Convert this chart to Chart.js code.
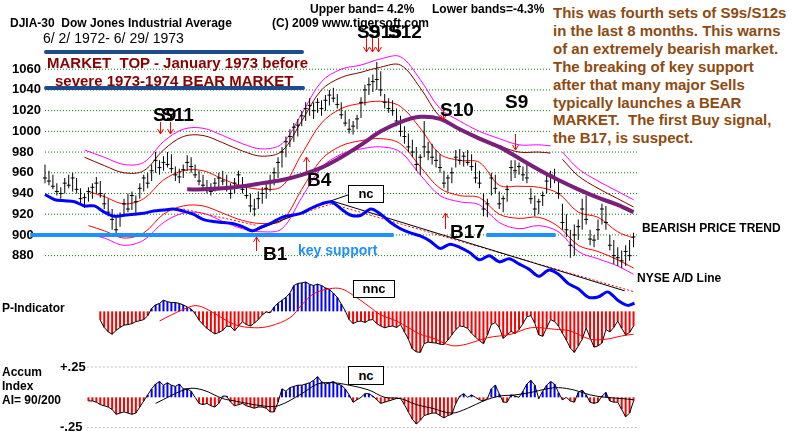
<!DOCTYPE html>
<html><head><meta charset="utf-8">
<script src="https://cdn.jsdelivr.net/npm/chart.js@4.4.1/dist/chart.umd.min.js"></script>
<style>
html,body{margin:0;padding:0;background:#fff;}
#wrap{position:relative;width:800px;height:438px;overflow:hidden;font-family:Arial,"Liberation Sans",sans-serif;background:#fff;}
#c{position:absolute;left:0;top:0;}
.t{position:absolute;white-space:nowrap;line-height:1;color:#000;}
.b12{font-size:12px;font-weight:bold;}
.mk{font-size:15px;font-weight:bold;color:#8b0000;}
.sig{font-size:19px;font-weight:bold;}
.box{position:absolute;background:#fff;border:1px solid #000;font-size:13px;font-weight:bold;text-align:center;box-sizing:border-box;}
.note{position:absolute;left:552px;top:0;width:248px;height:146px;background:#fff;box-sizing:border-box;padding:4px 0 0 1px;font-size:15px;font-weight:bold;line-height:17.9px;color:#8f4a10;white-space:nowrap;}
</style></head><body>
<div id="wrap">
<canvas id="c" width="800" height="438"></canvas>
<svg width="800" height="438" style="position:absolute;left:0;top:0" xmlns="http://www.w3.org/2000/svg">
<g stroke="#1f4d8c" stroke-width="4" stroke-linecap="round"><line x1="46" y1="52" x2="302" y2="52"/><line x1="46" y1="88" x2="303" y2="88"/></g>
<g stroke="#ff0000" stroke-width="1" fill="none">
<path d="M160.5 122V134M157.5 129L160.5 134L163.5 129"/>
<path d="M170.5 122V134M167.5 129L170.5 134L173.5 129"/>
<path d="M366.5 36V52M363.5 47L366.5 52L369.5 47"/>
<path d="M372.5 36V52M369.5 47L372.5 52L375.5 47"/>
<path d="M378.5 38V52M375.5 47L378.5 52L381.5 47"/>
<path d="M443.5 104V120M440.5 115L443.5 120L446.5 115"/>
<path d="M515.5 134V150M512.5 145L515.5 150L518.5 145"/>
<path d="M256.5 251V237M253.5 242L256.5 237L259.5 242"/>
<path d="M306.5 171V157M303.5 162L306.5 157L309.5 162"/>
<path d="M445.5 229V213M442.5 218L445.5 213L448.5 218"/>
</g></svg>
<div class="t b12" style="left:10px;top:17px">DJIA-30&nbsp; Dow Jones Industrial Average</div>
<div class="t" style="left:43px;top:31px;font-size:14px">6/ 2/ 1972- 6/ 29/ 1973</div>
<div class="t b12" style="left:310px;top:3px">Upper band= 4.2%</div>
<div class="t b12" style="left:432px;top:3px">Lower bands=-4.3%</div>
<div class="t b12" style="left:272px;top:17px">(C) 2009 www.tigersoft.com</div>
<div class="t mk" style="left:47px;top:55px">MARKET&nbsp; TOP - January 1973 before</div>
<div class="t mk" style="left:55px;top:73px">severe 1973-1974 BEAR MARKET</div>
<div class="note">This was fourth sets of S9s/S12s<br>in the last 8 months. This warns<br>of an extremely bearish market.<br>The breaking of key support<br>after that many major Sells<br>typically launches a BEAR<br>MARKET.&nbsp; The first Buy signal,<br>the B17, is suspect.</div>
<div class="t sig" style="left:153px;top:105px">S9</div>
<div class="t sig" style="left:161px;top:105px">S11</div>
<div class="t sig" style="left:357px;top:22px">S9</div>
<div class="t sig" style="left:368px;top:22px">S15</div>
<div class="t sig" style="left:388px;top:22px">S12</div>
<div class="t sig" style="left:440px;top:100px">S10</div>
<div class="t sig" style="left:505px;top:92px">S9</div>
<div class="t sig" style="left:307px;top:170px">B4</div>
<div class="t sig" style="left:263px;top:244px">B1</div>
<div class="t sig" style="left:450px;top:222px">B17</div>
<div class="t" style="left:298px;top:243px;font-size:14px;font-weight:bold;color:#1e90ff">key support</div>
<div class="box" style="left:348px;top:185px;width:36px;height:18px;line-height:16px">nc</div>
<div class="box" style="left:353px;top:280px;width:42px;height:18px;line-height:16px">nnc</div>
<div class="box" style="left:348px;top:366px;width:36px;height:19px;line-height:17px">nc</div>
<div class="t b12" style="left:642px;top:222px">BEARISH PRICE TREND</div>
<div class="t b12" style="left:637px;top:272px">NYSE A/D Line</div>
<div class="t b12" style="left:2px;top:302px">P-Indicator</div>
<div class="t b12" style="left:2px;top:366px">Accum</div>
<div class="t b12" style="left:2px;top:380px">Index</div>
<div class="t b12" style="left:2px;top:394px">AI= 90/200</div>
</div>
<script>
// ---------- DATA ----------
const priceTicks = [880, 900, 920, 940, 960, 980, 1000, 1020, 1040, 1060];
const accumTicks = [0.25, -0.25];
const accumTickLabels = ['+.25', '-.25'];

// daily bars, index 0 = 6/2/1972 ... 149 = 6/29/1973
const highs = [968,962,958,950,946,955,958,960,955,945,
  940,946,950,956,952,940,935,925,918,922,
  935,940,942,938,950,958,960,968,980,972,
  976,980,978,966,964,968,977,975,968,962,
  958,953,950,955,960,962,958,950,955,962,
  956,948,940,935,942,946,950,958,965,975,
  985,995,1002,1008,1012,1020,1028,1032,1028,1032,
  1030,1035,1040,1042,1036,1028,1020,1012,1010,1016,
  1033,1045,1052,1055,1067,1058,1036,1032,1030,1022,
  1015,1005,998,992,985,978,1010,990,988,982,
  978,962,958,965,982,983,980,982,978,970,
  962,940,935,960,958,942,938,948,972,972,
  970,966,968,945,938,935,942,958,962,964,
  955,930,920,905,910,915,935,938,905,900,
  915,930,928,900,895,888,885,890,895,902];
const lows = [950,948,944,938,935,940,945,942,940,930,
  926,932,935,940,936,925,918,905,900,908,
  918,922,924,920,935,942,945,952,960,958,
  962,965,960,952,950,955,962,960,955,948,
  944,940,938,942,945,948,942,935,940,945,
  940,935,922,918,925,930,935,942,948,955,
  965,975,985,990,995,1005,1010,1015,1012,1018,
  1015,1020,1025,1028,1022,1012,1005,998,997,1002,
  1013,1025,1035,1038,1040,1034,1022,1018,1015,1005,
  995,988,980,975,962,958,975,972,968,965,
  960,945,942,950,965,968,966,967,962,950,
  945,918,917,938,940,925,922,932,952,955,
  958,952,950,930,918,920,928,940,945,950,
  935,905,898,878,880,895,905,910,890,888,
  895,910,905,885,872,870,868,870,875,888];
const closes = [955,952,947,942,940,950,948,955,944,935,
  936,942,946,950,940,930,922,915,905,918,
  930,925,938,932,945,955,950,962,972,965,
  970,968,964,958,956,963,970,966,958,952,
  948,945,942,950,955,952,945,940,950,958,
  944,938,928,925,935,940,945,952,960,970,
  980,990,995,1004,1006,1015,1022,1025,1020,1028,
  1022,1030,1035,1032,1026,1016,1008,1002,1005,1012,
  1028,1040,1045,1048,1050,1040,1028,1022,1020,1010,
  1000,995,985,980,968,975,985,980,975,972,
  965,950,955,960,975,972,976,970,966,955,
  950,925,930,955,945,930,935,944,965,962,
  966,958,955,935,925,932,938,952,958,955,
  940,912,905,890,900,908,925,915,896,895,
  905,925,912,890,880,878,875,884,880,898];

// trading bands (upper sets have a break between two band computations)
const upperX = [10,15,20,25,30,35,40,45,50,55,60,65,70,75,80,85,90,95,100,105,110,115,120,125,128,130,131,135,140,145,149];
const upperBand  = [982,975,968,970,990,1002,1003,996,988,983,988,1017,1048,1060,1064,1070,1072,1050,1022,1010,1000,993,987,987,986,null,980,964,952,942,934];
const upperInner = [975,967,960,962,982,995,996,989,981,976,981,1010,1040,1052,1057,1062,1064,1042,1014,1003,993,986,980,980,979,null,973,957,945,935,927];
const midX = [11,15,20,25,30,35,40,45,50,55,60,65,70,75,80,85,90,95,100,105,110,115,120,125,130,135,140,145,149];
const midBand    = [942,937,930,935,953,962,962,954,947,944,947,978,1008,1022,1027,1029,1024,1003,978,972,970,948,947,946,940,922,917,903,897];
const lowerInner = [909,904,897,902,920,928,928,921,914,911,914,944,973,986,991,993,988,966,945,938,936,920,916,917,908,890,884,876,868];
const lowerBand  = [901,897,890,895,912,921,921,913,906,903,906,936,965,978,983,985,980,958,938,932,929,912,906,909,903,884,877,870,862];

// long moving average (purple)
const maLongX = [36,40,45,50,55,60,65,70,75,80,85,90,95,100,105,110,115,120,125,130,135,140,145,149];
const maLong  = [944,944,945,947,950,953,958,965,975,987,1000,1009,1014,1012,1002,993,985,974,963,953,944,936,929,922];

// NYSE A/D line (drawn on price scale)
const adX = [0,2.5,5,7.5,10,12.5,15,17.5,20,22.5,25,27.5,30,32.5,35,37.5,40,42.5,45,47.5,50,52.5,55,57.5,60,62.5,65,67.5,70,72.5,75,77.5,80,82.5,85,87.5,90,92.5,95,97.5,100,102.5,105,107.5,110,112.5,115,117.5,120,122.5,125,127.5,130,132.5,135,137.5,140,142.5,145,147.5,149.25];
const adLine = [939,934,933,932,928,928,922,918,919,920,
  921,923,924,925,923,920,915,913,912,911,
  908,904,908,912,917,919,921,926,930,932,
  925,919,919,925,920,912,906,902,899,894,
  887,891,888,883,876,880,874,877,872,867,
  860,866,862,853,848,840,840,845,837,832,834];

// support level and trend lines
const supportLevel = 900;
const supportSpans = [[-3.75, 88.25], [111.75, 129.25]];
const blackTrends = [ {x:[52.5,72.5], y:[903,933]}, {x:[72.5,146.75], y:[933,846]}, {x:[72.5,77], y:[933,939]} ];
const redTrends   = [ {x:[35,53.75], y:[925,909]}, {x:[53.75,72.5], y:[907,930]}, {x:[72.5,149.25], y:[930,845]} ];

// P-Indicator
const pStart = 14;
const pIndicator = [-30,-55,-70,-78,-65,-55,-47,-45,-42,-35,
  -32,-28,-15,10,22,27,38,33,30,30,
  27,22,15,8,-8,-30,-45,-58,-68,-77,
  -72,-65,-50,-52,-66,-50,-35,-45,-50,-40,
  -28,-12,-2,-5,15,28,38,48,62,88,
  95,97,100,92,88,93,88,80,75,62,
  48,25,2,-28,-42,-35,-33,-38,-30,-28,
  -42,-50,-56,-52,-50,-55,-45,-70,-95,-128,
  -138,-140,-110,-105,-107,-108,-112,-113,-98,-80,
  -62,-50,-52,-58,-75,-88,-100,-110,-80,-45,
  -38,-55,-92,-80,-68,-76,-62,-42,-18,-15,
  -40,-80,-85,-56,-28,-35,-50,-75,-98,-125,
  -140,-118,-95,-56,-90,-122,-118,-108,-62,-70,
  -55,-33,-58,-80,-72,-50];
const pMaX = [29,32,37,39,42,48,53,57,62,65,68,72,75,78,82,85,89,95,98,103,107,112,118,123,129,133,138,142,146,149];
const pMa  = [-33,-12,17,18,0,-45,-56,-50,-22,22,60,77,77,55,17,-12,-33,-78,-90,-117,-111,-90,-78,-56,-61,-67,-95,-95,-84,-78];

// Accumulation Index
const aStart = 11;
const accumIndex = [-0.03,-0.03,-0.04,-0.06,-0.07,-0.08,-0.10,-0.14,-0.13,-0.12,
  -0.13,-0.14,-0.13,-0.08,-0.03,0.02,0.07,0.11,0.13,0.10,
  0.12,0.10,0.09,0.11,0.07,0.07,0.05,0.00,-0.05,-0.06,
  -0.05,-0.07,-0.08,-0.05,0.01,0.01,-0.04,-0.07,-0.06,-0.05,
  -0.07,-0.08,-0.09,-0.08,-0.08,-0.09,-0.12,-0.12,-0.04,0.07,
  0.05,0.08,0.09,0.10,0.10,0.11,0.12,0.14,0.17,0.13,
  0.11,0.12,0.13,0.11,0.10,0.07,0.02,-0.04,-0.02,0.00,
  0.03,0.03,0.01,-0.02,-0.05,-0.04,-0.03,-0.02,-0.01,-0.01,
  -0.06,-0.12,-0.18,-0.22,-0.19,-0.15,-0.14,-0.13,-0.13,-0.15,
  -0.17,-0.15,-0.14,-0.05,0.01,0.03,0.00,0.02,0.00,-0.02,
  -0.03,-0.01,0.07,0.10,0.03,-0.04,-0.04,0.02,0.01,0.00,
  0.05,0.11,0.14,0.10,-0.01,0.05,0.10,0.13,0.11,0.04,
  -0.02,0.00,-0.03,-0.04,0.04,0.06,0.02,-0.04,-0.05,-0.04,
  0.01,0.04,-0.03,-0.04,-0.04,-0.10,-0.16,-0.13,-0.03];
const aMaX = [28,36,40,45,48,55,59,65,69,73,77,82,86,90,94,98,103,107,111,115,119,123,127,130,134,138,142,146,149];
const aMa  = [-0.05,0.07,0.06,-0.01,-0.03,-0.07,-0.07,0.03,0.11,0.12,0.10,0.06,0.00,-0.01,-0.06,-0.09,-0.13,-0.09,-0.03,0.01,0.02,0.04,0.07,0.08,0.06,0.02,0.00,-0.01,-0.02];

// ---------- CHART ----------
const GRID_FROM = 0, GRID_TO = 150, AGRID_FROM = 10.75;
const xy = (xs, ys) => xs.map((x, k) => ({x, y: ys[k]}));
const seq = (s, n) => Array.from({length: n}, (_, k) => s + k);
const barIdx = seq(0, highs.length);
const RED = '#ff0000', BLUE = '#0000ff';

const lineDs = (data, axis, color, width, order, extra) => Object.assign({
  type: 'line', yAxisID: axis, data, borderColor: color, borderWidth: width,
  pointRadius: 0, fill: false, tension: 0, spanGaps: false, order
}, extra || {});

const datasets = [];
priceTicks.forEach(t => datasets.push(lineDs([{x: GRID_FROM, y: t}, {x: GRID_TO, y: t}], 'y', '#008000', 1, 40, {borderDash: [1, 2]})));
accumTicks.forEach(t => datasets.push(lineDs([{x: AGRID_FROM, y: t}, {x: GRID_TO, y: t}], 'yA', '#8a7a8a', 1, 40, {borderDash: [1, 3]})));

// bands
datasets.push(lineDs(xy(upperX, upperBand), 'y', '#ff00ff', 1, 20, {tension: 0.35}));
datasets.push(lineDs(xy(upperX, upperInner), 'y', '#800000', 1, 20, {tension: 0.35}));
datasets.push(lineDs(xy(midX, midBand), 'y', '#ff0000', 1, 20, {tension: 0.35}));
datasets.push(lineDs(xy(midX, lowerInner), 'y', '#ff0000', 1, 20, {tension: 0.35}));
datasets.push(lineDs(xy(midX, lowerBand), 'y', '#ff00ff', 1, 20, {tension: 0.35}));

// price bars + closes
datasets.push({type: 'bar', yAxisID: 'y', data: barIdx.map(i => ({x: i, y: [lows[i], highs[i]]})),
  backgroundColor: '#000', borderWidth: 0, grouped: false, maxBarThickness: 1, order: 12});
datasets.push({type: 'scatter', yAxisID: 'y', data: xy(barIdx, closes), pointStyle: 'line',
  pointRadius: 2, pointBorderWidth: 1, pointBorderColor: '#000', pointBackgroundColor: '#000', order: 11});

// purple MA
datasets.push(lineDs(xy(maLongX, maLong), 'y', '#7a1f7a', 4, 8, {tension: 0.35}));

// support lines
supportSpans.forEach(s => datasets.push(lineDs([{x: s[0], y: supportLevel}, {x: s[1], y: supportLevel}], 'y', '#1e90ff', 4, 6)));

// trend lines
blackTrends.forEach(t => datasets.push(lineDs(xy(t.x, t.y), 'y', '#000', 1, 5)));
redTrends.forEach(t => datasets.push(lineDs(xy(t.x, t.y), 'y', '#ff0000', 1, 5, {borderDash: [2, 2]})));

// A/D line
datasets.push(lineDs(xy(adX, adLine), 'y', '#0000ff', 3, 3, {tension: 0.3}));

// P-Indicator
const pX = seq(pStart, pIndicator.length);
datasets.push({type: 'bar', yAxisID: 'yP', data: xy(pX, pIndicator),
  backgroundColor: pIndicator.map(v => v >= 0 ? BLUE : RED), borderWidth: 0, grouped: false, maxBarThickness: 2, order: 14});
datasets.push(lineDs(xy(pX, pIndicator), 'yP', '#000', 1, 4));
datasets.push(lineDs(xy(pMaX, pMa), 'yP', '#ff0000', 1, 3, {tension: 0.35}));

// Accum Index
const aX = seq(aStart, accumIndex.length);
datasets.push({type: 'bar', yAxisID: 'yA', data: xy(aX, accumIndex),
  backgroundColor: accumIndex.map(v => v >= 0 ? BLUE : RED), borderWidth: 0, grouped: false, maxBarThickness: 2, order: 14});
datasets.push(lineDs(xy(aX, accumIndex), 'yA', '#000', 1, 4));
datasets.push(lineDs(xy(aMaX, aMa), 'yA', '#000', 1, 3, {tension: 0.35}));

const zeroFit = s => { s.width = 0; s.paddingTop = 0; s.paddingBottom = 0; s.paddingLeft = 0; s.paddingRight = 0; };
const tickFont = {family: 'Arial', size: 13, weight: 'bold'};

new Chart(document.getElementById('c'), {
  type: 'bar',
  data: {datasets},
  options: {
    responsive: false, animation: false, devicePixelRatio: 1, events: [],
    layout: {padding: 0},
    plugins: {legend: {display: false}, tooltip: {enabled: false}, title: {display: false}},
    scales: {
      x: {type: 'linear', min: -10.125, max: 189.875, display: false, offset: false},
      y: {position: 'left', min: 708.77, max: 1121.98, z: 1,
        grid: {display: false, drawTicks: false}, border: {display: false},
        afterBuildTicks: s => { s.ticks = priceTicks.map(v => ({value: v})); },
        afterFit: zeroFit,
        ticks: {mirror: true, padding: 7, color: '#000', font: tickFont, autoSkip: false, callback: v => String(v)}},
      yP: {position: 'left', min: -415, max: 1045, display: false},
      yA: {position: 'left', min: -0.2944, max: 3.2379, z: 1,
        grid: {display: false, drawTicks: false}, border: {display: false},
        afterBuildTicks: s => { s.ticks = accumTicks.map(v => ({value: v})); },
        afterFit: zeroFit,
        ticks: {mirror: true, padding: 55, color: '#000', font: tickFont, autoSkip: false,
          callback: (v, i) => accumTickLabels[i]}}
    }
  }
});
</script>
</body></html>
